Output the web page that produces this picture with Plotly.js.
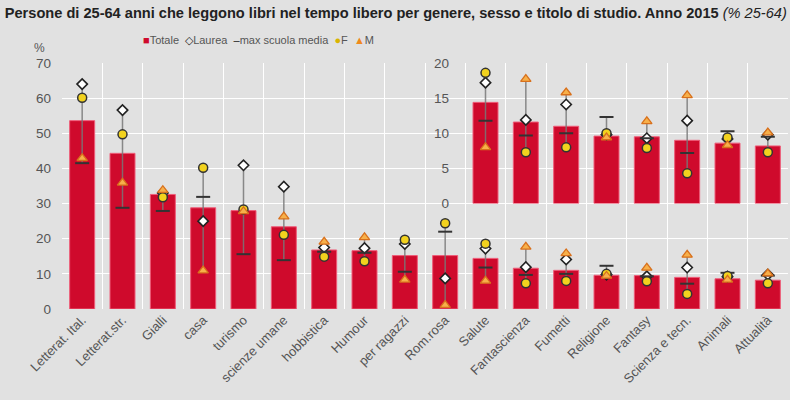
<!DOCTYPE html>
<html>
<head>
<meta charset="utf-8">
<script src="https://cdn.plot.ly/plotly-3.0.1.min.js"></script>
<style>html,body{margin:0;padding:0;background:#e1e1e1;}#chart{width:790px;height:400px;}</style>
</head>
<body>
<div id="chart"></div>
<script>
const categories = ["Letterat. Ital.","Letterat.str.","Gialli","casa","turismo","scienze umane","hobbistica","Humour","per ragazzi","Rom.rosa","Salute","Fantascienza","Fumetti","Religione","Fantasy","Scienza e tecn.","Animali","Attualità"];
const totale   = [53.6,44.3,32.6,28.8,28.0,23.4,16.8,16.6,15.2,15.2,14.4,11.6,11.0,9.6,9.5,9.0,8.6,8.2];
const laurea   = [64.0,56.6,33.0,25.0,40.9,34.8,17.5,17.3,18.5,8.7,17.2,11.9,14.1,9.8,9.3,11.8,9.2,9.8];
const maxMedia = [41.5,28.8,27.9,31.9,15.6,13.9,16.3,16.0,10.6,22.0,11.8,9.7,10.0,12.3,9.3,7.2,10.3,9.5];
const femmine  = [60.1,49.7,31.8,40.2,28.3,21.1,14.9,13.6,19.7,24.4,18.6,7.3,8.0,10.0,7.9,4.3,9.4,7.3];
const maschi   = [42.9,35.9,33.8,10.9,27.8,26.3,19.1,20.4,8.3,1.1,8.0,17.7,15.8,9.4,11.7,15.4,8.3,10.1];
const insetStart = 10; // inset (zoomed, 0-20 scale) from "Salute" onwards

const FONT = "Liberation Sans Narrow, Liberation Sans, Arial, sans-serif";
const BAR = "#cf0a2c", BARLINE = "#ef5c78";

function rangeLine(idx) {
  const xs = [], ys = [];
  idx.forEach(i => {
    const v = [laurea[i], maxMedia[i], femmine[i], maschi[i]];
    xs.push(categories[i], categories[i], null);
    ys.push(Math.min(...v), Math.max(...v), null);
  });
  return {xs, ys};
}

function makeSet(idx, yaxis) {
  const pick = a => idx.map(i => a[i]);
  const cats = pick(categories);
  const rl = rangeLine(idx);
  return [
    {type:'bar', name:'Totale', x:cats, y:pick(totale), yaxis:yaxis,
     marker:{color:BAR, line:{color:BARLINE, width:1}}, width:0.62},
    {type:'scatter', mode:'lines', x:rl.xs, y:rl.ys, yaxis:yaxis, hoverinfo:'skip',
     line:{color:'rgba(120,120,120,0.85)', width:1.5}},
    {type:'scatter', mode:'markers', name:'Laurea', x:cats, y:pick(laurea), yaxis:yaxis,
     marker:{symbol:'diamond', size:8, color:'#ffffff', line:{color:'#222', width:1.6}}},
    {type:'scatter', mode:'markers', name:'max scuola media', x:cats, y:pick(maxMedia), yaxis:yaxis,
     marker:{symbol:'line-ew', size:10, color:'#333', line:{color:'#333', width:2}}},
    {type:'scatter', mode:'markers', name:'F', x:cats, y:pick(femmine), yaxis:yaxis,
     marker:{symbol:'circle', size:9, color:'#f2d21e', line:{color:'#333', width:1.5}}},
    {type:'scatter', mode:'markers', name:'M', x:cats, y:pick(maschi), yaxis:yaxis,
     marker:{symbol:'triangle-up', size:9, color:'#f7b04a', line:{color:'#d8701c', width:1.3}}}
  ];
}

const allIdx = categories.map((_, i) => i);
const insetIdx = allIdx.filter(i => i >= insetStart);
const data = makeSet(allIdx, 'y').concat(makeSet(insetIdx, 'y2'));

const legendText =
  '<span style="color:#cf0a2c">■</span>Totale&nbsp;&nbsp;' +
  '<span style="color:#222">◇</span>Laurea&nbsp;&nbsp;' +
  '<span style="color:#222">–</span>max scuola media&nbsp;&nbsp;' +
  '<span style="color:#d9b400">●</span>F&nbsp;&nbsp;' +
  '<span style="color:#f08a1c">▲</span>M';

const layout = {
  width:790, height:400,
  paper_bgcolor:'#e1e1e1', plot_bgcolor:'rgba(0,0,0,0)',
  margin:{l:62, r:2, t:63, b:91},
  font:{family:FONT, color:'#555', size:12},
  showlegend:false,
  title:{text:'<b>Persone di 25-64 anni che leggono libri nel tempo libero per genere, sesso e titolo di studio. Anno 2015</b> <i>(% 25-64)</i>',
         x:0.006, xanchor:'left', xref:'container', y:0.968, yref:'container', yanchor:'middle',
         font:{family:FONT, size:14.6, color:'#222'}},
  xaxis:{type:'category', categoryorder:'array', categoryarray:categories, range:[-0.5, categories.length-0.5],
         tickson:'boundaries', showgrid:true, gridcolor:'#ffffff', gridwidth:1, ticklen:0,
         tickangle:-45, tickfont:{family:FONT, size:13, color:'#555'}, showline:false, zeroline:false},
  yaxis:{range:[0,70], dtick:10, showgrid:true, gridcolor:'#ffffff', gridwidth:1, zeroline:false,
         ticks:'', tickfont:{family:FONT, size:13.5, color:'#555'}, ticklabelstandoff:10},
  yaxis2:{domain:[30/70, 1], range:[0,20], dtick:5, anchor:'free', position:0.533, side:'left',
          showgrid:false, zeroline:false, ticks:'', showline:false,
          tickfont:{family:FONT, size:13.5, color:'#555'}},
  barmode:'overlay',
  annotations:[
    {text:'%', xref:'paper', yref:'paper', x:-0.031, y:1.06, xanchor:'center', yanchor:'middle',
     showarrow:false, font:{family:FONT, size:12, color:'#555'}},
    {text:legendText, xref:'paper', yref:'paper', x:0.27, y:1.093, xanchor:'center', yanchor:'middle',
     showarrow:false, font:{family:FONT, size:11, color:'#555'}}
  ]
};

Plotly.newPlot('chart', data, layout, {displayModeBar:false, staticPlot:true});
</script>
</body>
</html>
